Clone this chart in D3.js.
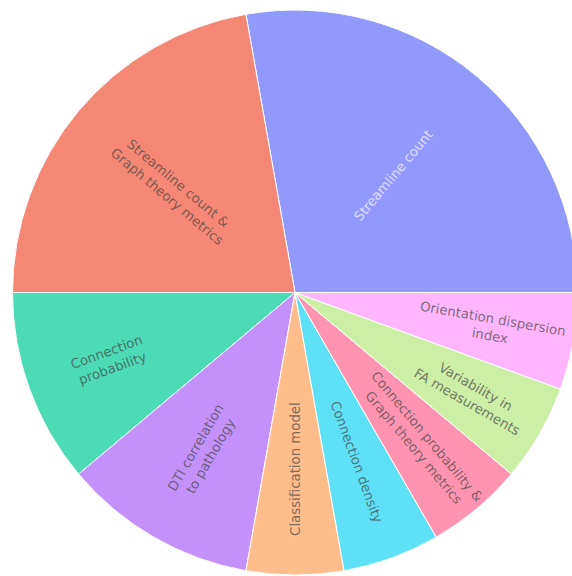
<!DOCTYPE html>
<html>
<head>
<meta charset="utf-8">
<script src="https://cdn.jsdelivr.net/npm/d3@7"></script>
<style>
  html, body { margin: 0; padding: 0; background: #fff; }
  svg { display: block; }
</style>
</head>
<body>
<svg id="chart" width="572" height="576"></svg>
<script>
// ---- data ----
const categories = [
  "Streamline count",
  "Streamline count & Graph theory metrics",
  "Connection probability",
  "DTI correlation to pathology",
  "Classification model",
  "Connection density",
  "Connection probability & Graph theory metrics",
  "Variability in FA measurements",
  "Orientation dispersion index"
];
const values = [5, 4, 2, 2, 1, 1, 1, 1, 1];
const labelLines = [
  ["Streamline count"],
  ["Streamline count &", "Graph theory metrics"],
  ["Connection", "probability"],
  ["DTI correlation", "to pathology"],
  ["Classification model"],
  ["Connection density"],
  ["Connection probability &", "Graph theory metrics"],
  ["Variability in", "FA measurements"],
  ["Orientation dispersion", "index"]
];

// ---- layout / style ----
const colors = ["#636EFA", "#EF553B", "#00CC96", "#AB63FA", "#FFA15A",
                "#19D3F3", "#FF6692", "#B6E880", "#FF97FF"];
const textColors = ["#ffffff", "#444444", "#444444", "#444444", "#444444",
                    "#444444", "#444444", "#444444", "#444444"];
const labelRadius = [0.541, 0.565, 0.699, 0.651, 0.625, 0.638, 0.691, 0.721, 0.706];
const cx = 295, cy = 292.5, R = 282.5;
const opacity = 0.7;
const fontSize = 13.3;

const svg = d3.select("#chart");
const g = svg.append("g").attr("transform", `translate(${cx},${cy})`);

const pie = d3.pie()
  .sort(null)
  .value(d => d.value)
  .startAngle(Math.PI / 2)
  .endAngle(Math.PI / 2 - 2 * Math.PI);

const data = categories.map((c, i) => ({ name: c, value: values[i], i }));
const arcs = pie(data);
const arc = d3.arc().innerRadius(0).outerRadius(R);

g.selectAll("path.slice")
  .data(arcs)
  .join("path")
  .attr("class", "slice")
  .attr("d", arc)
  .attr("fill", d => colors[d.data.i])
  .attr("fill-opacity", opacity)
  .attr("stroke", "#ffffff")
  .attr("stroke-width", 1);

const labels = g.selectAll("text.lbl")
  .data(arcs)
  .join("text")
  .attr("class", "lbl")
  .attr("font-family", "'DejaVu Sans', Verdana, sans-serif")
  .attr("font-size", fontSize)
  .attr("fill", d => textColors[d.data.i])
  .attr("fill-opacity", opacity)
  .attr("text-anchor", "middle")
  .attr("transform", d => {
    const mid = (d.startAngle + d.endAngle) / 2;
    const r = labelRadius[d.data.i] * R;
    const x = r * Math.sin(mid), y = -r * Math.cos(mid);
    let deg = ((mid * 180 / Math.PI) % 360 + 360) % 360 - 90;
    if (deg >= 90) deg -= 180;
    if (deg < -90) deg += 180;
    return `translate(${x},${y}) rotate(${deg})`;
  });

labels.each(function(d) {
  const lines = labelLines[d.data.i];
  const lh = 1.3;
  const t = d3.select(this);
  lines.forEach((ln, k) => {
    const off = (k - (lines.length - 1) / 2) * lh + 0.35;
    t.append("tspan").attr("x", 0).attr("y", 0).attr("dy", off + "em").text(ln);
  });
});
</script>
</body>
</html>
